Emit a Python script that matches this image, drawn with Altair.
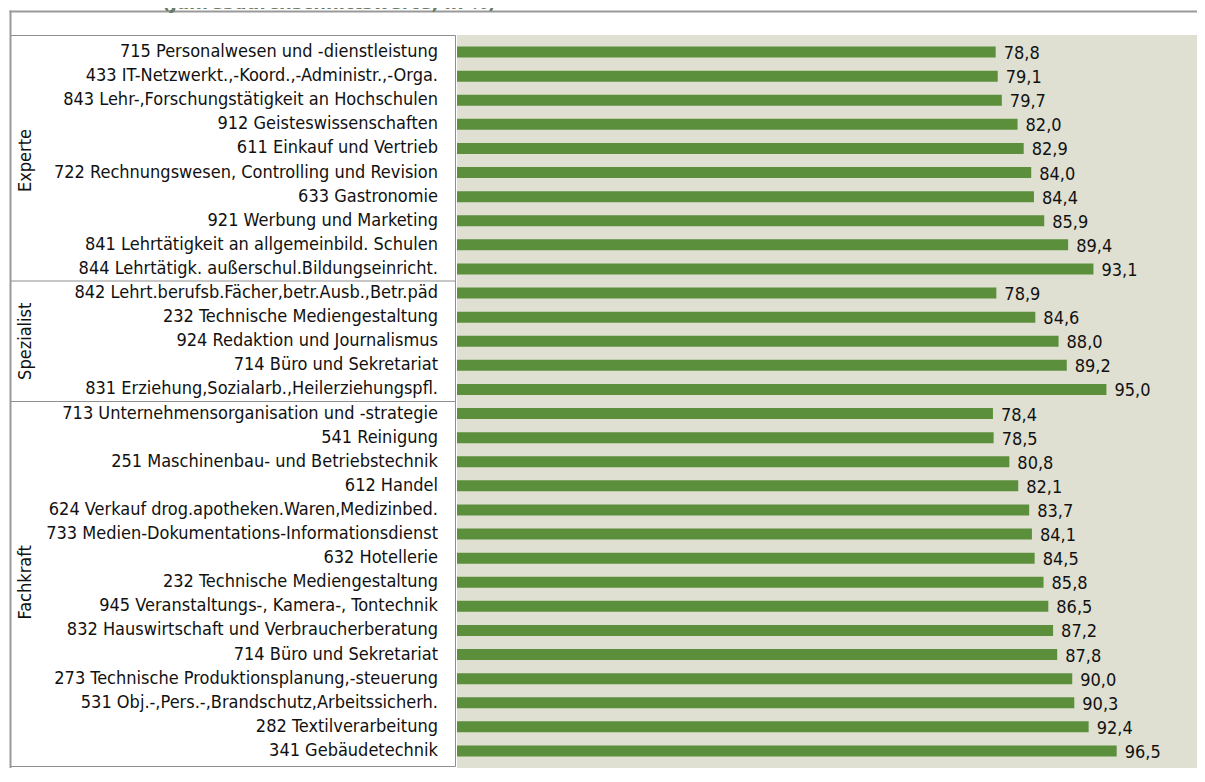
import altair as alt
import pandas as pd

title_text = "(Jahresdurchschnittswerte, in %)"

experte_labels = [
    "715 Personalwesen und -dienstleistung",
    "433 IT-Netzwerkt.,-Koord.,-Administr.,-Orga.",
    "843 Lehr-,Forschungstätigkeit an Hochschulen",
    "912 Geisteswissenschaften",
    "611 Einkauf und Vertrieb",
    "722 Rechnungswesen, Controlling und Revision",
    "633 Gastronomie",
    "921 Werbung und Marketing",
    "841 Lehrtätigkeit an allgemeinbild. Schulen",
    "844 Lehrtätigk. außerschul.Bildungseinricht.",
]
experte_values = [78.8, 79.1, 79.7, 82.0, 82.9, 84.0, 84.4, 85.9, 89.4, 93.1]

spezialist_labels = [
    "842 Lehrt.berufsb.Fächer,betr.Ausb.,Betr.päd",
    "232 Technische Mediengestaltung",
    "924 Redaktion und Journalismus",
    "714 Büro und Sekretariat",
    "831 Erziehung,Sozialarb.,Heilerziehungspfl.",
]
spezialist_values = [78.9, 84.6, 88.0, 89.2, 95.0]

fachkraft_labels = [
    "713 Unternehmensorganisation und -strategie",
    "541 Reinigung",
    "251 Maschinenbau- und Betriebstechnik",
    "612 Handel",
    "624 Verkauf drog.apotheken.Waren,Medizinbed.",
    "733 Medien-Dokumentations-Informationsdienst",
    "632 Hotellerie",
    "232 Technische Mediengestaltung",
    "945 Veranstaltungs-, Kamera-, Tontechnik",
    "832 Hauswirtschaft und Verbraucherberatung",
    "714 Büro und Sekretariat",
    "273 Technische Produktionsplanung,-steuerung",
    "531 Obj.-,Pers.-,Brandschutz,Arbeitssicherh.",
    "282 Textilverarbeitung",
    "341 Gebäudetechnik",
]
fachkraft_values = [78.4, 78.5, 80.8, 82.1, 83.7, 84.1, 84.5, 85.8, 86.5,
                    87.2, 87.8, 90.0, 90.3, 92.4, 96.5]

groups = ["Experte", "Spezialist", "Fachkraft"]

rows = []
for g, labs, vals in zip(groups,
                         [experte_labels, spezialist_labels, fachkraft_labels],
                         [experte_values, spezialist_values, fachkraft_values]):
    for l, v in zip(labs, vals):
        rows.append({"group": g, "label": l, "v": v})
df = pd.DataFrame(rows)
df["i"] = range(len(df))
n = len(df)

FONT = "DejaVu Sans Condensed"
FS = 18
W = 740          # plot width inside the svg
H = 733          # plot height (svg is 27 + 733 = 760 px tall)
LEFT = -446.5
GRID = "#8f8f8f"
BG = "#dfe0d2"

yscale = alt.Scale(domain=[-0.5, n - 0.5], reverse=True, nice=False, zero=False)
xscale = alt.Scale(domain=[0, W / 6.836], nice=False, zero=True)

base = alt.Chart(df)
one = alt.Chart(pd.DataFrame({"k": [0]}))

bars = base.mark_bar(size=11, color="#5b8f3b", orient="horizontal").encode(
    x=alt.X("v:Q", scale=xscale, axis=None),
    y=alt.Y("i:Q", scale=yscale, axis=None),
)

values = base.transform_calculate(
    txt="replace(format(datum.v, '.1f'), '.', ',')"
).mark_text(align="left", baseline="middle", dx=8, dy=2, fontSize=FS,
            font=FONT, color="#111111").encode(
    x=alt.X("v:Q", scale=xscale, axis=None),
    y=alt.Y("i:Q", scale=yscale, axis=None),
    text="txt:N",
)

cat_labels = base.mark_text(align="right", baseline="middle", fontSize=FS,
                            font=FONT, color="#111111").encode(
    x=alt.value(-19),
    y=alt.Y("i:Q", scale=yscale, axis=None),
    text="label:N",
)

group_labels = base.transform_aggregate(
    mid="mean(i)", groupby=["group"]
).mark_text(angle=270, align="center", baseline="middle", fontSize=FS,
            font=FONT, color="#111111").encode(
    x=alt.value(-431),
    y=alt.Y("mid:Q", scale=yscale, axis=None),
    text="group:N",
)

separators = base.transform_aggregate(
    last="max(i)", groupby=["group"]
).transform_filter(f"datum.last < {n - 1}").transform_calculate(
    b="datum.last + 0.5"
).mark_rule(color=GRID, strokeWidth=1).encode(
    y=alt.Y("b:Q", scale=yscale, axis=None),
    x=alt.value(LEFT),
    x2=alt.value(-1.5),
)

box_top = one.mark_rule(color=GRID, strokeWidth=1).encode(
    x=alt.value(LEFT), x2=alt.value(-1.5), y=alt.value(0.5))
box_bottom = one.mark_rule(color=GRID, strokeWidth=1).encode(
    x=alt.value(LEFT), x2=alt.value(-1.5), y=alt.value(H - 1.5))
box_right = one.mark_rule(color=GRID, strokeWidth=1).encode(
    x=alt.value(-1.5), y=alt.value(0.5), y2=alt.value(H - 1.5))
outer_top = one.mark_rule(color="#9a9a9a", strokeWidth=2).encode(
    x=alt.value(LEFT - 1), x2=alt.value(W), y=alt.value(-23.5))
outer_left = one.mark_rule(color="#9a9a9a", strokeWidth=2).encode(
    x=alt.value(LEFT), y=alt.value(-24.5), y2=alt.value(H))

title = alt.Chart(pd.DataFrame({"t": [title_text]})).mark_text(
    align="center", baseline="alphabetic", fontSize=18, fontWeight="bold",
    font="DejaVu Sans", color="#6b7a64"
).encode(x=alt.value(-128), y=alt.value(-26), text="t:N")

chart = alt.layer(
    bars, values, separators, box_top, box_bottom, box_right,
    outer_top, outer_left, cat_labels, group_labels, title
).properties(
    width=W, height=H,
    autosize=alt.AutoSizeParams(type="none"),
    padding={"left": 449, "top": 27, "right": 0, "bottom": 0},
).configure_view(fill=BG, stroke=None)

chart.save("out.html", embed_options={"renderer": "svg", "actions": False})
